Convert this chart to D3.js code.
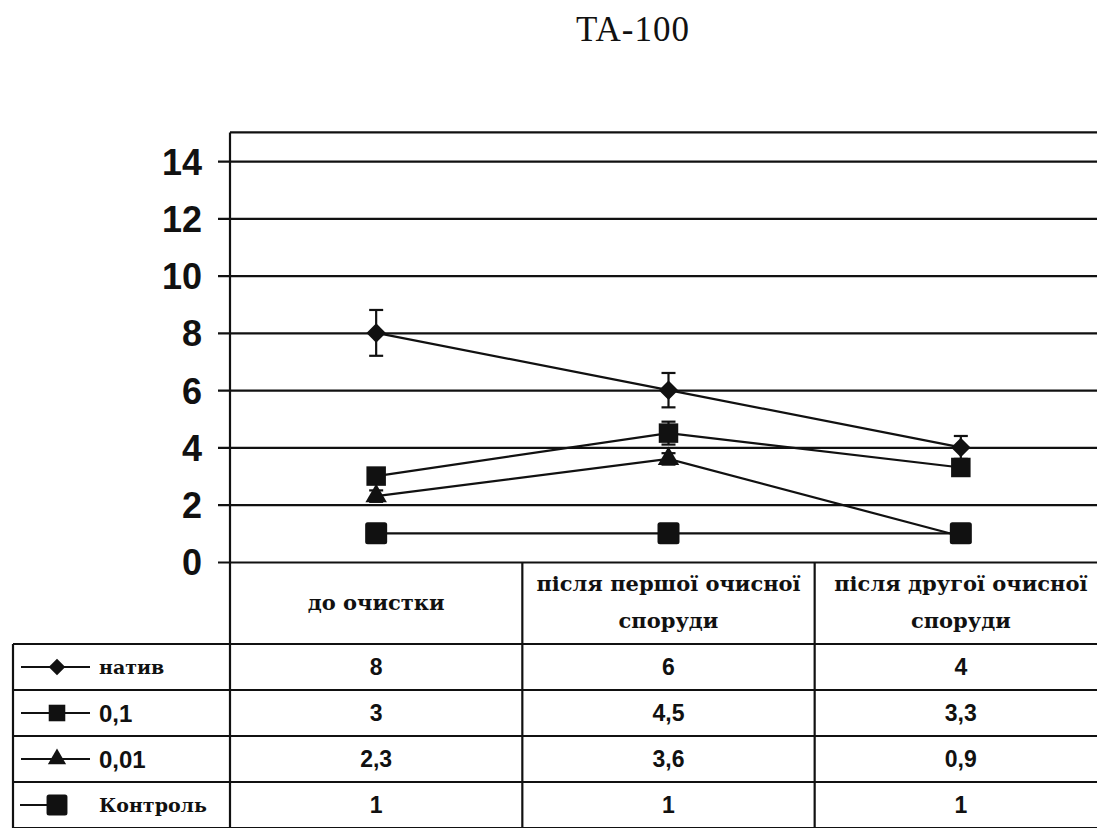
<!DOCTYPE html>
<html>
<head>
<meta charset="utf-8">
<script src="https://cdn.jsdelivr.net/npm/d3@7"></script>
<style>
  html, body { margin: 0; padding: 0; background: #fff; }
  svg { display: block; }
</style>
</head>
<body>
<svg id="chart" width="1097" height="828"></svg>
<script>
// ---- data ----
const title = "TA-100";
const categories = ["до очистки", "після першої очисної споруди", "після другої очисної споруди"];
const categoryLines = [["до очистки"], ["після першої очисної", "споруди"], ["після другої очисної", "споруди"]];
const seriesNames = ["натив", "0,1", "0,01", "Контроль"];
const nativValues = [8, 6, 4];
const dose01Values = [3, 4.5, 3.3];
const dose001Values = [2.3, 3.6, 0.9];
const controlValues = [1, 1, 1];
const nativErrors = [0.8, 0.6, 0.4];
const dose01Errors = [0, 0.4, 0];
const dose001Errors = [0.2, 0.2, 0];
const yTicks = [0, 2, 4, 6, 8, 10, 12, 14];

const series = [
  { name: seriesNames[0], values: nativValues, errors: nativErrors, marker: "diamond" },
  { name: seriesNames[1], values: dose01Values, errors: dose01Errors, marker: "square" },
  { name: seriesNames[2], values: dose001Values, errors: dose001Errors, marker: "triangle" },
  { name: seriesNames[3], values: controlValues, errors: [0, 0, 0], marker: "bigsquare" }
];

// ---- layout ----
const W = 1097, H = 828;
const plotLeft = 230, plotRight = 1107, plotTop = 132.4, plotBottom = 562;
const tableLeft = 13, headerBottom = 644, rowH = 46;
const ink = "#111";
const lw = 2.2;

const svg = d3.select("#chart");

const x = d3.scaleBand().domain(categories).range([plotLeft, plotRight]).padding(0);
const y = d3.scaleLinear().domain([0, 15]).range([plotBottom, plotTop]);
const cx = c => x(c) + x.bandwidth() / 2;

// title
svg.append("text")
  .attr("x", 633).attr("y", 41)
  .attr("text-anchor", "middle")
  .style("font-family", "'Liberation Serif', serif")
  .style("font-size", "35px")
  .style("letter-spacing", "1px")
  .attr("fill", ink)
  .text(title);

// y axis with full-width gridlines
const yAxis = d3.axisLeft(y)
  .tickValues(yTicks)
  .tickSize(-(W - plotLeft))
  .tickSizeOuter(0)
  .tickPadding(28)
  .tickFormat(d3.format("d"));

const gAxis = svg.append("g")
  .attr("transform", `translate(${plotLeft},0)`)
  .call(yAxis);
gAxis.select(".domain").remove();
gAxis.selectAll(".tick line")
  .attr("x1", -12)
  .attr("stroke", ink).attr("stroke-width", lw);
gAxis.selectAll(".tick text")
  .attr("fill", ink)
  .style("font-family", "'Liberation Sans', Arial, sans-serif")
  .style("font-weight", "bold")
  .style("font-size", "36px")
  .attr("dy", "0.36em");

// plot frame: top and left borders
svg.append("line")
  .attr("x1", plotLeft).attr("x2", W)
  .attr("y1", plotTop).attr("y2", plotTop)
  .attr("stroke", ink).attr("stroke-width", lw);
svg.append("line")
  .attr("x1", plotLeft).attr("x2", plotLeft)
  .attr("y1", plotTop).attr("y2", H)
  .attr("stroke", ink).attr("stroke-width", lw);

// ---- data table below the plot ----
const table = svg.append("g");
// column dividers
categories.forEach(c => {
  table.append("line")
    .attr("x1", x(c) + x.bandwidth()).attr("x2", x(c) + x.bandwidth())
    .attr("y1", plotBottom).attr("y2", H)
    .attr("stroke", ink).attr("stroke-width", lw);
});
// left border of legend column
table.append("line")
  .attr("x1", tableLeft).attr("x2", tableLeft)
  .attr("y1", headerBottom).attr("y2", H)
  .attr("stroke", ink).attr("stroke-width", lw);
// row lines
for (let i = 0; i <= series.length; i++) {
  const yy = headerBottom + i * rowH;
  table.append("line")
    .attr("x1", tableLeft).attr("x2", W)
    .attr("y1", yy).attr("y2", yy)
    .attr("stroke", ink).attr("stroke-width", lw);
}

// header cells
categories.forEach((c, i) => {
  const lines = categoryLines[i];
  const mid = (plotBottom + headerBottom) / 2;
  const lh = 37;
  lines.forEach((t, j) => {
    table.append("text")
      .attr("x", cx(c))
      .attr("y", mid + (j - (lines.length - 1) / 2) * lh)
      .attr("dy", "0.32em")
      .attr("text-anchor", "middle")
      .style("font-family", "'DejaVu Serif', serif")
      .style("font-weight", "bold")
      .style("font-size", "21px")
      .attr("fill", ink)
      .text(t);
  });
});

const fmt = v => String(v).replace(".", ",");

// marker drawing helper
function drawMarker(g, type, px, py, scale) {
  const k = scale || 1;
  if (type === "diamond") {
    g.append("path")
      .attr("d", d3.symbol(d3.symbolSquare, 190 * k * k)())
      .attr("transform", `translate(${px},${py}) rotate(45)`)
      .attr("fill", ink);
  } else if (type === "square") {
    g.append("path")
      .attr("d", d3.symbol(d3.symbolSquare, 380 * k * k)())
      .attr("transform", `translate(${px},${py})`)
      .attr("fill", ink);
  } else if (type === "triangle") {
    g.append("path")
      .attr("d", d3.symbol(d3.symbolTriangle, 200 * k * k)())
      .attr("transform", `translate(${px},${py})`)
      .attr("fill", ink);
  } else if (type === "bigsquare") {
    const s = 22 * k;
    g.append("rect")
      .attr("x", px - s / 2).attr("y", py - s / 2)
      .attr("width", s).attr("height", s)
      .attr("rx", 2.5)
      .attr("fill", ink);
  }
}

// legend keys and values per row
series.forEach((s, i) => {
  const rowMid = headerBottom + i * rowH + rowH / 2;
  const keyX = 57;
  if (s.marker === "bigsquare") {
    table.append("line")
      .attr("x1", 20).attr("x2", keyX)
      .attr("y1", rowMid).attr("y2", rowMid)
      .attr("stroke", ink).attr("stroke-width", lw);
  } else {
    table.append("line")
      .attr("x1", 21).attr("x2", 90)
      .attr("y1", rowMid).attr("y2", rowMid)
      .attr("stroke", ink).attr("stroke-width", lw);
  }
  drawMarker(table, s.marker, keyX, rowMid, s.marker === "bigsquare" ? 0.95 : 0.85);

  const isSerif = (s.marker === "diamond" || s.marker === "bigsquare");
  table.append("text")
    .attr("x", 99).attr("y", rowMid)
    .attr("dy", "0.36em")
    .style("font-family", isSerif ? "'DejaVu Serif', serif" : "'Liberation Sans', Arial, sans-serif")
    .style("font-weight", "bold")
    .style("font-size", isSerif ? "19px" : "24px")
    .attr("fill", ink)
    .text(s.name);

  s.values.forEach((v, j) => {
    table.append("text")
      .attr("x", cx(categories[j])).attr("y", rowMid)
      .attr("dy", "0.36em")
      .attr("text-anchor", "middle")
      .style("font-family", "'Liberation Sans', Arial, sans-serif")
      .style("font-weight", "bold")
      .style("font-size", "23px")
      .attr("fill", ink)
      .text(fmt(v));
  });
});

// ---- series lines, error bars and markers ----
const line = d3.line()
  .x((d, j) => cx(categories[j]))
  .y(d => y(d));

const gSeries = svg.append("g");
series.forEach(s => {
  gSeries.append("path")
    .datum(s.values)
    .attr("d", line)
    .attr("fill", "none")
    .attr("stroke", ink)
    .attr("stroke-width", lw);
});

series.forEach(s => {
  s.values.forEach((v, j) => {
    const e = s.errors[j];
    if (!e) return;
    const px = cx(categories[j]);
    const g = gSeries.append("g").attr("stroke", ink).attr("stroke-width", lw);
    g.append("line").attr("x1", px).attr("x2", px).attr("y1", y(v - e)).attr("y2", y(v + e));
    g.append("line").attr("x1", px - 7).attr("x2", px + 7).attr("y1", y(v + e)).attr("y2", y(v + e));
    g.append("line").attr("x1", px - 7).attr("x2", px + 7).attr("y1", y(v - e)).attr("y2", y(v - e));
  });
});

series.forEach(s => {
  s.values.forEach((v, j) => {
    drawMarker(gSeries, s.marker, cx(categories[j]), y(v), 1);
  });
});
</script>
</body>
</html>
